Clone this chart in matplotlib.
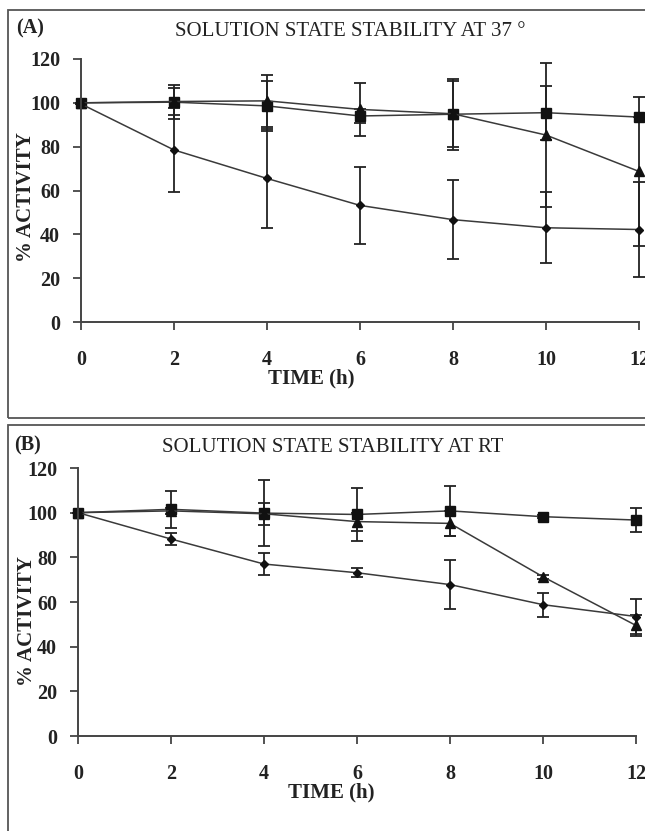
import matplotlib
matplotlib.use('Agg')
import matplotlib.pyplot as plt
from matplotlib.patches import Rectangle

plt.rcParams['font.family'] = ['Liberation Serif', 'DejaVu Serif']

# time points (h)
t = [0, 2, 4, 6, 8, 10, 12]

# panel A: 37 deg
sq_a = [100, 100.3, 98.6, 94, 94.8, 95.5, 93.5]
sq_a_err = [0, 7.7, 11.5, 3, 16.3, 12.3, 0]
tri_a = [100, 100.6, 100.9, 97, 95, 85.3, 68.7]
tri_a_err = [0, 6, 12, 12, 15, 33, 33.8]
dia_a = [99.5, 78.5, 65.5, 53.2, 46.7, 43, 42.2]
dia_a_err = [0, 19.1, 22.6, 17.4, 18, 16.2, 21.8]

# panel B: room temperature
sq_b = [100, 101.5, 99.8, 99.2, 100.8, 98.2, 96.7]
sq_b_err = [0, 8.2, 14.7, 12, 11.2, 0.8, 5.5]
tri_b = [100, 100.8, 99.5, 96, 95.2, 71.3, 49.5]
tri_b_err = [0, 1.5, 5, 4, 5.6, 1, 4.5]
dia_b = [100, 88.2, 77, 73.1, 67.8, 58.8, 53.5]
dia_b_err = [0, 2.5, 4.9, 2, 10.8, 5.4, 8]

titles = ['SOLUTION STATE STABILITY AT 37 \u00b0', 'SOLUTION STATE STABILITY AT RT']
tags = ['(A)', '(B)']

TXT = '#222222'
LINE = '#3a3a3a'

fig = plt.figure(figsize=(6.45, 8.31), dpi=100)
W, H = 645, 831


def fx(px):
    return px / W


def fy(py):
    return 1 - py / H


# panel frames
fig.patches.append(Rectangle((fx(8), fy(418)), 1.0, fy(10) - fy(418),
                             transform=fig.transFigure, fill=False,
                             edgecolor='#555555', lw=1.3))
fig.patches.append(Rectangle((fx(8), fy(845)), 1.0, fy(425) - fy(845),
                             transform=fig.transFigure, fill=False,
                             edgecolor='#555555', lw=1.3))

# axes boxes in pixels: left, right, top(120), bottom(0)
boxes = [(81, 639, 59, 322), (78, 636, 468, 736)]
series = [
    [(sq_a, sq_a_err, 's', 6.5), (tri_a, tri_a_err, '^', 7), (dia_a, dia_a_err, 'D', 4.5)],
    [(sq_b, sq_b_err, 's', 6.5), (tri_b, tri_b_err, '^', 7), (dia_b, dia_b_err, 'D', 4.5)],
]
xlab_pos = [(0.412, -0.175), (0.453, -0.175)]
ylab_pos = [(-0.08, 0.475), (-0.074, 0.43)]
title_pos = [(350, 31), (333, 448)]
tag_pos = [(16, 28), (14, 445)]

for i in range(2):
    l, r, tp, bt = boxes[i]
    ax = fig.add_axes([fx(l), fy(bt), (r - l) / W, (bt - tp) / H])
    for y, err, mk, ms in series[i]:
        ax.errorbar(t, y, yerr=err, color=LINE, lw=1.1, marker=mk, ms=ms,
                    mfc='#111111', mec='#111111', ecolor='#222222',
                    elinewidth=1.3, capsize=4.5, capthick=1.3, clip_on=False)
    ax.set_xlim(0, 12)
    ax.set_ylim(0, 120)
    ax.set_xticks(t)
    ax.set_yticks(range(0, 121, 20))
    for s in ['top', 'right']:
        ax.spines[s].set_visible(False)
    for s in ['left', 'bottom']:
        ax.spines[s].set_color('#444444')
        ax.spines[s].set_linewidth(1.4)
    ax.tick_params(axis='both', direction='out', length=6, width=1.3,
                   color='#444444', labelcolor=TXT, labelsize=14.5)
    ax.tick_params(axis='x', pad=14)
    ax.tick_params(axis='y', pad=9)
    for lab in ax.get_xticklabels() + ax.get_yticklabels():
        lab.set_fontweight('bold')
    ax.set_xlabel('TIME (h)', fontsize=15, fontweight='bold', color=TXT)
    ax.xaxis.set_label_coords(*xlab_pos[i])
    ax.set_ylabel('% ACTIVITY', fontsize=15, fontweight='bold', color=TXT)
    ax.yaxis.set_label_coords(*ylab_pos[i])
    fig.text(fx(title_pos[i][0]), fy(title_pos[i][1]), titles[i],
             ha='center', va='center', fontsize=15, color=TXT)
    fig.text(fx(tag_pos[i][0]), fy(tag_pos[i][1]), tags[i],
             ha='left', va='center', fontsize=14.5, fontweight='bold', color=TXT)

fig.savefig('out.png', dpi=100)
